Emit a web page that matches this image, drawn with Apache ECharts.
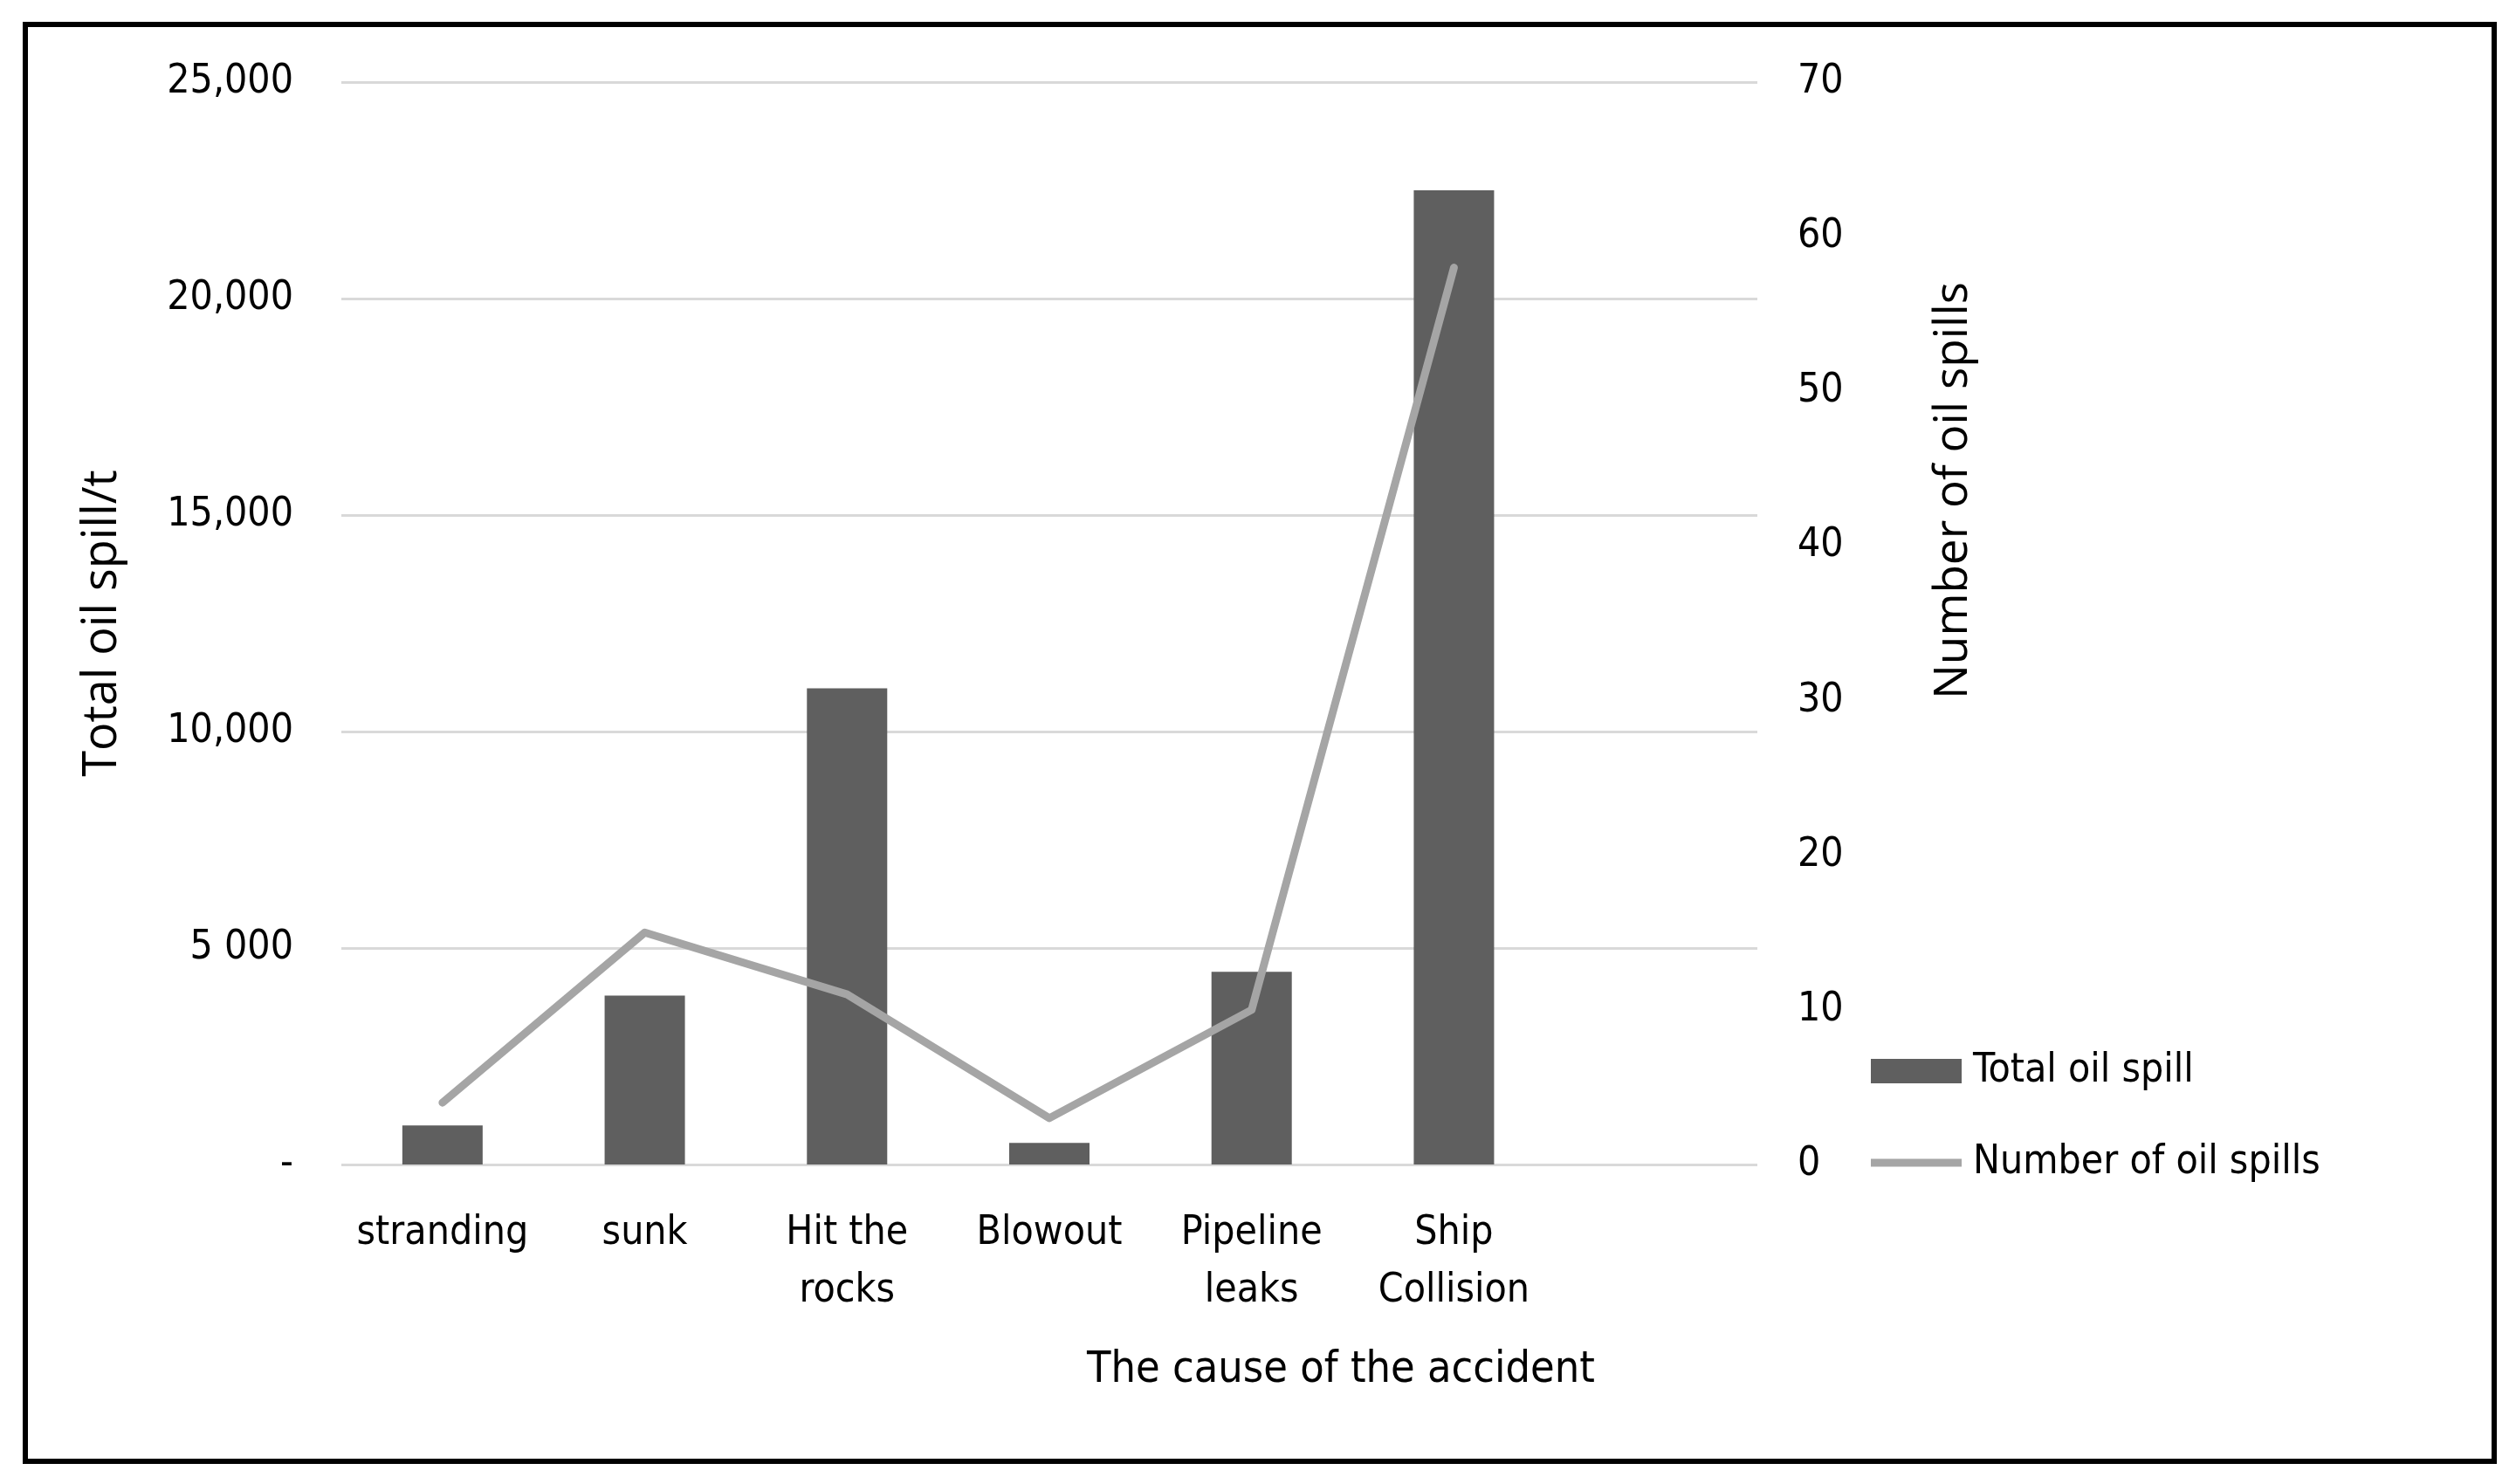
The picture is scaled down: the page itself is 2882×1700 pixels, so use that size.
<!DOCTYPE html>
<html>
<head>
<meta charset="utf-8">
<script src="https://cdn.jsdelivr.net/npm/echarts@6/dist/echarts.min.js"></script>
<style>
html,body{margin:0;padding:0;background:#fff;}
#chart{width:2882px;height:1700px;}
</style>
</head>
<body>
<div id="chart"></div>
<script>
var categories = ['stranding', 'sunk', 'Hit the\nrocks', 'Blowout', 'Pipeline\nleaks', 'Ship\nCollision', ''];
var totalOilSpill = [900, 3900, 11000, 500, 4450, 22500];
var numberOfSpills = [4, 15, 11, 3, 10, 58];
var leftTickLabels = {0: '-', 5000: '5 000', 10000: '10,000', 15000: '15,000', 20000: '20,000', 25000: '25,000'};

var narrow = "'DejaVu Sans Condensed', 'Liberation Sans Narrow', sans-serif";
var wide = "'Open Sans', 'Noto Sans', sans-serif";

var chart = echarts.init(document.getElementById('chart'), null, {renderer: 'canvas'});
chart.setOption({
  backgroundColor: '#ffffff',
  animation: false,
  title: {
    text: 'The cause of the accident',
    left: 1531,
    top: 1540,
    textAlign: 'center',
    textStyle: {fontFamily: narrow, fontSize: 50, fontWeight: 'normal', color: '#000'}
  },
  legend: {
    orient: 'vertical',
    left: 2138,
    top: 1192,
    itemWidth: 104,
    itemHeight: 28,
    itemGap: 45,
    textStyle: {fontFamily: narrow, fontSize: 46, color: '#000', lineHeight: 60, padding: [0, 0, 0, 8]},
    data: [
      {name: 'Total oil spill', icon: 'rect'},
      {name: 'Number of oil spills', icon: 'path://M0,0 L104,0 L104,9 L0,9 Z'}
    ]
  },
  graphic: [{
    type: 'rect',
    shape: {x: 29, y: 28, width: 2828, height: 1646},
    style: {fill: 'none', stroke: '#000', lineWidth: 6},
    silent: true,
    z: 100
  }],
  grid: {left: 391, right: 869, top: 94, bottom: 366, containLabel: false},
  xAxis: {
    type: 'category',
    data: categories,
    boundaryGap: true,
    axisLine: {show: false},
    axisTick: {show: false},
    axisLabel: {
      interval: 0,
      margin: 46,
      fontFamily: narrow,
      fontSize: 46,
      lineHeight: 66,
      color: '#000'
    }
  },
  yAxis: [{
    type: 'value',
    min: 0,
    max: 25000,
    interval: 5000,
    name: 'Total oil spill/t',
    nameLocation: 'middle',
    nameGap: 246,
    nameTextStyle: {fontFamily: wide, fontSize: 54, color: '#000'},
    axisLine: {show: false},
    axisTick: {show: false},
    splitLine: {show: true, lineStyle: {color: '#d9d9d9', width: 3}},
    axisLabel: {
      margin: 55,
      fontFamily: narrow,
      fontSize: 46,
      color: '#000',
      formatter: function (v) { return leftTickLabels[v] !== undefined ? leftTickLabels[v] : String(v); }
    }
  }, {
    type: 'value',
    min: 0,
    max: 70,
    interval: 10,
    position: 'right',
    name: 'Number of oil spills',
    nameLocation: 'middle',
    nameGap: 198,
    nameTextStyle: {fontFamily: wide, fontSize: 53, color: '#000', padding: [0, 0, 0, 304]},
    axisLine: {show: false},
    axisTick: {show: false},
    splitLine: {show: false},
    axisLabel: {margin: 46, fontFamily: narrow, fontSize: 46, color: '#000'}
  }],
  series: [{
    name: 'Total oil spill',
    type: 'bar',
    yAxisIndex: 0,
    barWidth: 92,
    itemStyle: {color: '#5f5f5f'},
    data: totalOilSpill
  }, {
    name: 'Number of oil spills',
    type: 'line',
    yAxisIndex: 1,
    symbol: 'none',
    showSymbol: false,
    lineStyle: {color: '#a5a5a5', width: 9, cap: 'round', join: 'round'},
    itemStyle: {color: '#a5a5a5'},
    data: numberOfSpills
  }]
});
</script>
</body>
</html>
